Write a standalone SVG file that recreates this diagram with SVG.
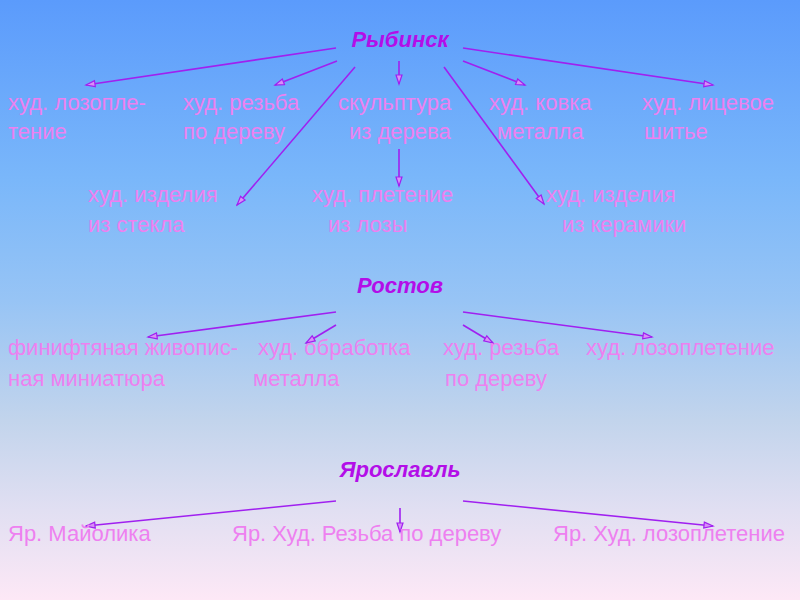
<svg xmlns="http://www.w3.org/2000/svg" width="800" height="600" viewBox="0 0 800 600">
<defs>
<linearGradient id="bg" x1="0" y1="0" x2="0" y2="1">
<stop offset="0" stop-color="#5b9bfc"/>
<stop offset="0.3" stop-color="#7ab7fa"/>
<stop offset="0.5" stop-color="#97c4f5"/>
<stop offset="0.7" stop-color="#c2d4ec"/>
<stop offset="0.85" stop-color="#e1dff2"/>
<stop offset="1" stop-color="#fde8f6"/>
</linearGradient>
<marker id="ah" markerWidth="12" markerHeight="10" refX="10" refY="4" orient="auto" markerUnits="userSpaceOnUse">
<path d="M1,1 L10,4 L1,7 Z" fill="#d890f6" stroke="#a020f0" stroke-width="1.2" stroke-linejoin="miter"/>
</marker>
</defs>
<style>
.t{font-family:"Liberation Sans",Arial,sans-serif;font-size:22px;fill:#ee80f0}
.h{font-family:"Liberation Sans",Arial,sans-serif;font-size:22px;font-weight:bold;font-style:italic;fill:#b30ee8;text-anchor:middle}
.c line{stroke:#a020f0;stroke-width:1.6;fill:none;marker-end:url(#ah)}
</style>
<rect width="800" height="600" fill="url(#bg)"/>

<g class="c" id="connectors">
<line x1="336" y1="48" x2="86" y2="85"/>
<line x1="337" y1="61" x2="275" y2="85"/>
<line x1="355" y1="67" x2="237" y2="205"/>
<line x1="399" y1="61" x2="399" y2="84"/>
<line x1="463" y1="61" x2="525" y2="85"/>
<line x1="463" y1="48" x2="713" y2="85"/>
<line x1="444" y1="67" x2="544" y2="204"/>
<line x1="399" y1="149" x2="399" y2="186"/>
<line x1="336" y1="312" x2="148" y2="337"/>
<line x1="336" y1="325" x2="306" y2="343"/>
<line x1="463" y1="325" x2="493" y2="343"/>
<line x1="463" y1="312" x2="652" y2="337"/>
<line x1="336" y1="501" x2="86" y2="526"/>
<line x1="400" y1="508" x2="400" y2="532"/>
<line x1="463" y1="501" x2="713" y2="526"/>
</g>

<g id="rybinsk"><text class="h" x="400" y="47">Рыбинск</text></g>
<g id="lozopletenie1"><text class="t" x="8" y="110">худ. лозопле-</text><text class="t" x="8" y="139">тение</text></g>
<g id="rezba1"><text class="t" x="183" y="110">худ. резьба</text><text class="t" x="183" y="139">по дереву</text></g>
<g id="skulptura"><text class="t" x="338" y="110">скульптура</text><text class="t" x="349" y="139">из дерева</text></g>
<g id="kovka"><text class="t" x="489" y="110">худ. ковка</text><text class="t" x="497" y="139">металла</text></g>
<g id="shitye"><text class="t" x="642" y="110">худ. лицевое</text><text class="t" x="644" y="139">шитье</text></g>
<g id="steklo"><text class="t" x="88" y="202">худ. изделия</text><text class="t" x="88" y="232">из стекла</text></g>
<g id="pletenie"><text class="t" x="312" y="202">худ. плетение</text><text class="t" x="328" y="232">из лозы</text></g>
<g id="keramika"><text class="t" x="546" y="202">худ. изделия</text><text class="t" x="562" y="232">из керамики</text></g>

<g id="rostov"><text class="h" x="400" y="293">Ростов</text></g>
<g id="finift"><text class="t" x="8" y="355">финифтяная живопис-</text><text class="t" x="8" y="386">ная миниатюра</text></g>
<g id="obrabotka"><text class="t" x="258" y="355">худ. обработка</text><text class="t" x="253" y="386">металла</text></g>
<g id="rezba2"><text class="t" x="443" y="355">худ. резьба</text><text class="t" x="445" y="386">по дереву</text></g>
<g id="lozopletenie2"><text class="t" x="586" y="355">худ. лозоплетение</text></g>

<g id="yaroslavl"><text class="h" x="400" y="477">Ярославль</text></g>
<g id="maiolika"><text class="t" x="8" y="541">Яр. Майолика</text></g>
<g id="rezba3"><text class="t" x="232" y="541">Яр. Худ. Резьба по дереву</text></g>
<g id="lozopletenie3"><text class="t" x="553" y="541">Яр. Худ. лозоплетение</text></g>
</svg>
